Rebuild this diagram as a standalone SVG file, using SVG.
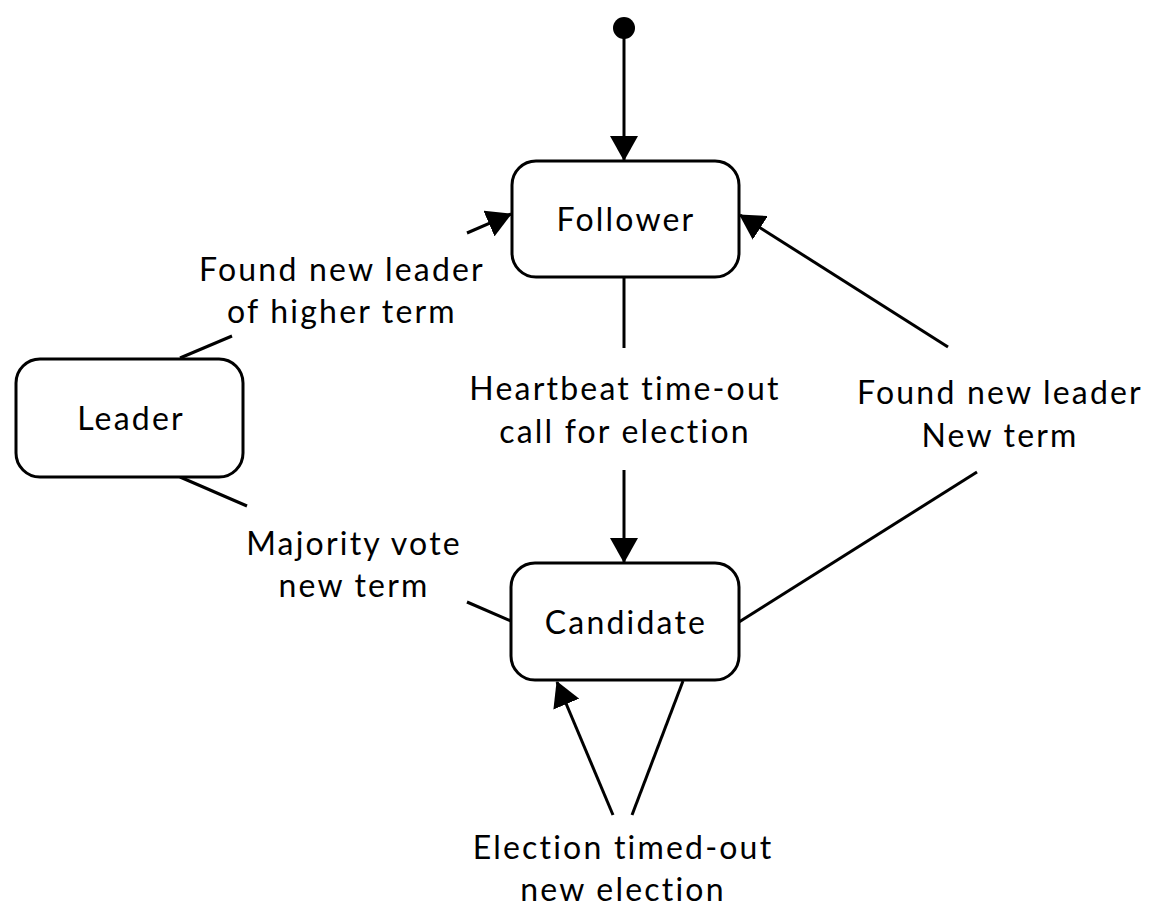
<svg xmlns="http://www.w3.org/2000/svg" width="1159" height="917" viewBox="0 0 1159 917">
<style>
.node rect{fill:#fff;stroke:#000;stroke-width:3}
.lbl{font-family:Lato,"Liberation Sans",sans-serif;font-size:32px;letter-spacing:2.2px;fill:#000;text-anchor:middle}
.edge{fill:none;stroke:#000;stroke-width:3}
</style>
<defs>
<marker id="arr" viewBox="0 0 25 28" refX="24" refY="14" markerWidth="25" markerHeight="28" markerUnits="userSpaceOnUse" orient="auto">
<path d="M0,0 L25,14 L0,28 Z" fill="#000"/>
</marker>
</defs>
<rect width="1159" height="917" fill="#fff"/>
<g id="connectors">
<path class="edge" d="M624,28 L624,160" marker-end="url(#arr)"/>
<path class="edge" d="M180,358 L232,336"/>
<path class="edge" d="M467,233 L511,214" marker-end="url(#arr)"/>
<path class="edge" d="M624,277 L624,348"/>
<path class="edge" d="M624,470 L624,562" marker-end="url(#arr)"/>
<path class="edge" d="M180,477 L247,506"/>
<path class="edge" d="M467,602 L511,621"/>
<path class="edge" d="M739,622 L977,472"/>
<path class="edge" d="M948,347 L740,215" marker-end="url(#arr)"/>
<path class="edge" d="M613,815 L557,682" marker-end="url(#arr)"/>
<path class="edge" d="M632,815 L683,681"/>
</g>
<circle id="initial" cx="624" cy="28" r="11" fill="#000"/>
<g id="follower" class="node"><rect x="512" y="161" width="227" height="116" rx="24"/><text class="lbl" x="626" y="231">Follower</text></g>
<g id="leader" class="node"><rect x="16" y="359" width="227" height="118" rx="24"/><text class="lbl" x="131" y="430">Leader</text></g>
<g id="candidate" class="node"><rect x="511" y="563" width="228" height="117" rx="24"/><text class="lbl" x="626" y="634">Candidate</text></g>
<g id="labels">
<text class="lbl" x="342" y="281">Found new leader</text>
<text class="lbl" x="342" y="323">of higher term</text>
<text class="lbl" x="625" y="400">Heartbeat time-out</text>
<text class="lbl" x="625" y="443">call for election</text>
<text class="lbl" x="1000" y="404">Found new leader</text>
<text class="lbl" x="1000" y="447">New term</text>
<text class="lbl" x="354" y="555">Majority vote</text>
<text class="lbl" x="354" y="597">new term</text>
<text class="lbl" x="623" y="859">Election timed-out</text>
<text class="lbl" x="623" y="901">new election</text>
</g>
</svg>
